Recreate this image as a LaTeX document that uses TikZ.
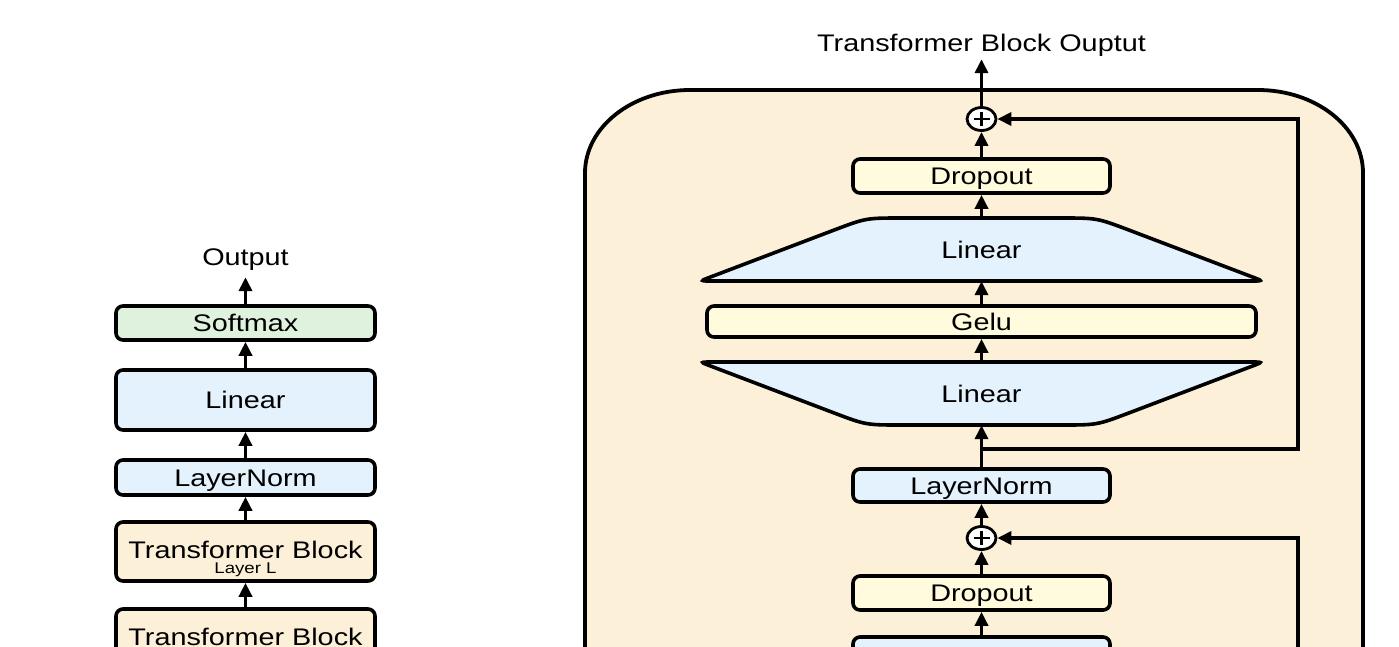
\documentclass[tikz,border=0pt]{standalone}
\usepackage{fontspec}
\setmainfont[FakeStretch=1.2]{Liberation Sans}
\usetikzlibrary{arrows.meta,shapes.geometric,calc}
\definecolor{peach}{HTML}{FCF0D8}
\definecolor{pyellow}{HTML}{FFFBDC}
\definecolor{pblue}{HTML}{E4F2FD}
\definecolor{pgreen}{HTML}{DFF2DE}
\begin{document}
\begin{tikzpicture}[x=1pt,y=-1pt,
  box/.style={draw, line width=3.6pt, rounded corners=7pt, inner sep=0pt,
    text height=17.2pt, text depth=0pt, font=\fontsize{24}{28}\selectfont},
  lbl/.style={inner sep=0pt, text height=17.2pt, text depth=0pt,
    font=\fontsize{24}{28}\selectfont},
  small/.style={inner sep=0pt, font=\fontsize{15.5}{17}\selectfont},
  arr/.style={line width=3.6pt, -{Triangle[length=14pt,width=13pt]}},
  addn/.style={ellipse, draw, fill=white, line width=2.8pt,
    minimum width=29pt, minimum height=23pt, inner sep=0pt},
  trap/.style={draw, line width=3.6pt, fill=pblue},
  bigbox/.style={draw, line width=3.8pt, fill=peach}
]
\useasboundingbox (0,0) rectangle (1399,646);
\clip (0,0) rectangle (1399,646);

% ---------------- left column ----------------
\node[lbl, anchor=base] (outL) at (245.5,265) {Output};
\node[box, fill=pgreen, minimum width=259pt, minimum height=34pt] (smx) at (245.5,323) {Softmax};
\node[box, fill=pblue, minimum width=259pt, minimum height=60pt] (linL) at (245.5,400) {Linear};
\node[box, fill=pblue, minimum width=259pt, minimum height=35pt] (lnL) at (245.5,477.5) {LayerNorm};
\node[box, fill=peach, minimum width=259pt, minimum height=59pt] (tbL) at (245.5,551.5) {};
\node[lbl, anchor=base] (tbLt) at (245.5,558) {Transformer Block};
\node[small, anchor=base] (tbLs) at (245.5,573.5) {Layer L};
\node[box, fill=peach, minimum width=259pt, minimum height=59pt] (tb2) at (245.5,638.5) {};
\node[lbl, anchor=base] (tb2t) at (245.5,645) {Transformer Block};

\draw[arr] (smx.north) -- ([yshift=-12pt]outL.south);
\draw[arr] (linL.north) -- (smx.south);
\draw[arr] (lnL.north) -- (linL.south);
\draw[arr] (tbL.north) -- (lnL.south);
\draw[arr] (tb2.north) -- (tbL.south);

% ---------------- right: transformer block ----------------
\draw[bigbox] (585,900) -- (585,173)
  arc[start angle=180, end angle=270, x radius=105, y radius=83]
  -- (1258,90)
  arc[start angle=270, end angle=360, x radius=105, y radius=83]
  -- (1363,900) -- cycle;

\node[lbl, anchor=base] (title) at (981.5,51) {Transformer Block Ouptut};

\node[addn] (add1) at (981.5,119) {};
\draw[line width=2.2pt] ([xshift=-8pt]add1.center) -- ([xshift=8pt]add1.center)
  ([yshift=-7pt]add1.center) -- ([yshift=7pt]add1.center);

\node[box, fill=pyellow, minimum width=257pt, minimum height=34pt] (do1) at (981.5,176) {Dropout};

\draw[trap] (712,281) .. controls (700,281) .. (710.5,277) -- (835,229.7)
  .. controls (866,218) .. (902,218) -- (1061,218) .. controls (1097,218) .. (1128,229.7)
  -- (1252.5,277) .. controls (1263,281) .. (1251,281) -- cycle;
\node[lbl, minimum height=63pt, text height=17.2pt] (lin1) at (981.5,249.5) {Linear};

\node[box, fill=pyellow, minimum width=549pt, minimum height=31pt] (gelu) at (981.5,321.5) {Gelu};

\draw[trap] (712,362) .. controls (700,362) .. (710.5,366) -- (835,413.3)
  .. controls (866,425) .. (902,425) -- (1061,425) .. controls (1097,425) .. (1128,413.3)
  -- (1252.5,366) .. controls (1263,362) .. (1251,362) -- cycle;
\node[lbl, minimum height=63pt] (lin2) at (981.5,393.5) {Linear};

\node[box, fill=pblue, minimum width=257pt, minimum height=33pt] (ln2) at (981.5,485.5) {LayerNorm};

\node[addn] (add2) at (981.5,538) {};
\draw[line width=2.2pt] ([xshift=-8pt]add2.center) -- ([xshift=8pt]add2.center)
  ([yshift=-7pt]add2.center) -- ([yshift=7pt]add2.center);

\node[box, fill=pyellow, minimum width=257pt, minimum height=34pt] (do2) at (981.5,593) {Dropout};
\node[box, fill=pblue, minimum width=257pt, minimum height=59pt] (nxt) at (981.5,666.5) {};

\coordinate (j1) at (981.5,449);
\coordinate (rx) at (1298,0);
\coordinate (r2) at (1298,720);

\draw[arr] (add1.north) -- ([yshift=-8pt]title.south);
\draw[arr] (do1.north) -- (add1.south);
\draw[arr] (lin1.north) -- (do1.south);
\draw[arr] (gelu.north) -- (lin1.south);
\draw[arr] (lin2.north) -- (gelu.south);
\draw[arr] (ln2.north) -- (lin2.south);
\draw[arr] (j1) -- (j1 -| rx) -- (rx |- add1.east) -- (add1.east);
\draw[arr] (add2.north) -- (ln2.south);
\draw[arr] (do2.north) -- (add2.south);
\draw[arr] (nxt.north) -- (do2.south);
\draw[arr] (r2) |- (add2.east);
\end{tikzpicture}
\end{document}
